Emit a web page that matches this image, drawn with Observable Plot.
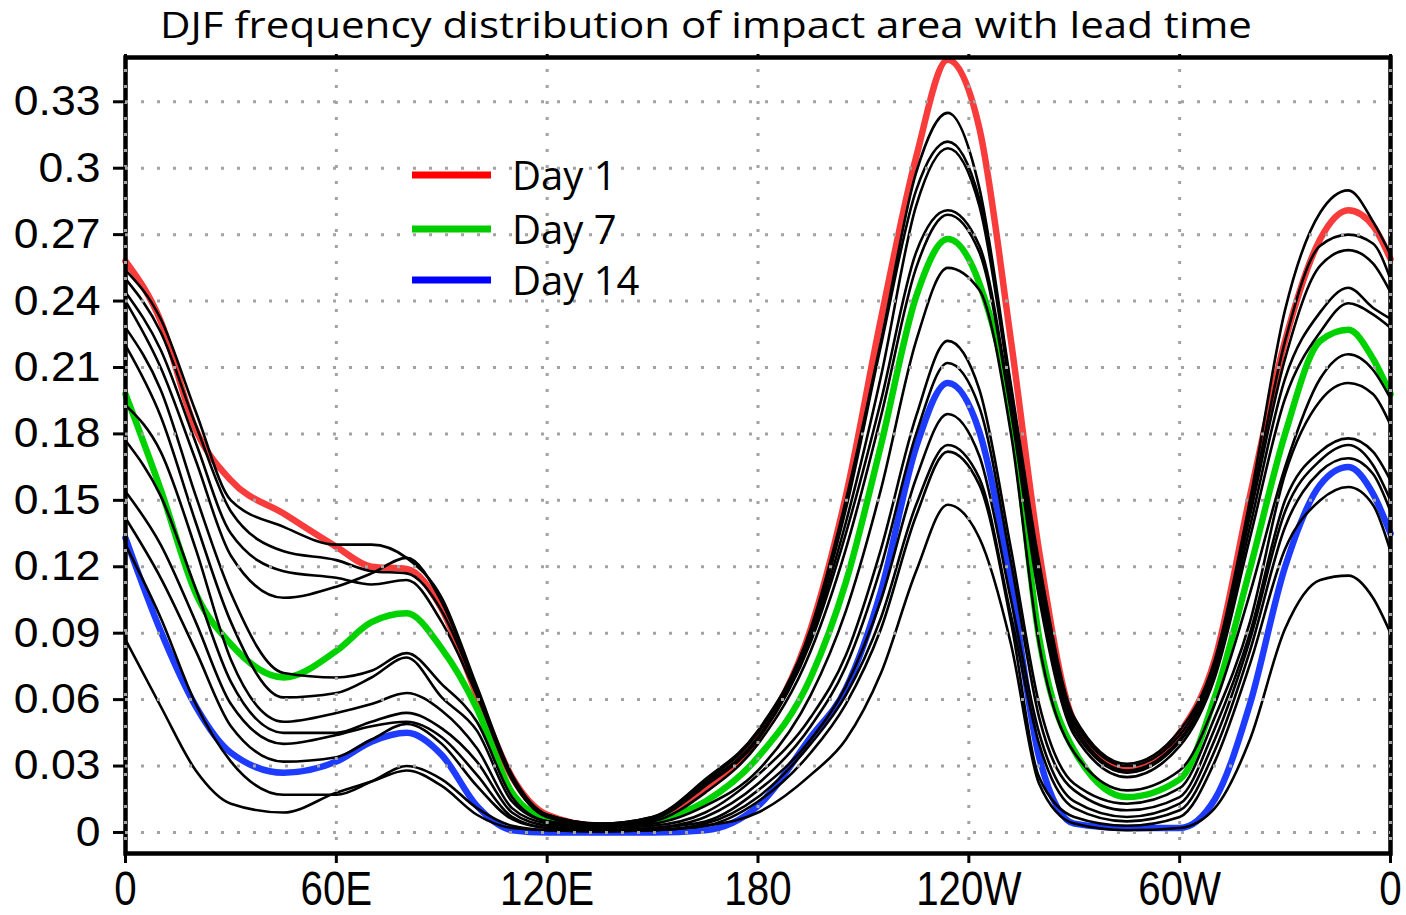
<!DOCTYPE html>
<html>
<head>
<meta charset="utf-8">
<script src="https://cdn.jsdelivr.net/npm/d3@7"></script>
<script src="https://cdn.jsdelivr.net/npm/@observablehq/plot@0.6"></script>
<style>
  html, body { margin: 0; padding: 0; background: #fff; }
  #wrap { position: relative; width: 1406px; height: 915px; overflow: hidden; }
  #wrap > svg { position: absolute; left: 0; top: 0; }
  #overlay { position: absolute; left: 0; top: 0; pointer-events: none; }
</style>
</head>
<body>
<div id="wrap"></div>
<script>
// ---- data ----
const lons = [0, 10, 20, 30, 45, 60, 70, 80, 90, 100, 110, 120, 135, 150, 165, 180, 195, 205, 215, 225, 234, 243, 252, 260, 270, 285, 300, 310, 320, 330, 340, 348, 355, 360];

const day1  = [0.258, 0.231, 0.182, 0.159, 0.144, 0.129, 0.120, 0.119, 0.101, 0.062, 0.025, 0.008, 0.003, 0.005, 0.020, 0.043, 0.092, 0.152, 0.232, 0.305, 0.349, 0.318, 0.222, 0.127, 0.050, 0.028, 0.045, 0.078, 0.152, 0.222, 0.268, 0.281, 0.274, 0.259];
const day7  = [0.198, 0.155, 0.108, 0.085, 0.070, 0.082, 0.095, 0.099, 0.083, 0.056, 0.018, 0.006, 0.002, 0.005, 0.014, 0.034, 0.070, 0.113, 0.175, 0.242, 0.268, 0.248, 0.190, 0.088, 0.037, 0.016, 0.024, 0.061, 0.119, 0.180, 0.222, 0.227, 0.214, 0.198];
const day14 = [0.133, 0.091, 0.057, 0.036, 0.027, 0.032, 0.041, 0.045, 0.035, 0.012, 0.001, 0.000, 0.000, 0.000, 0.001, 0.012, 0.043, 0.065, 0.109, 0.174, 0.203, 0.181, 0.112, 0.034, 0.004, 0.002, 0.002, 0.015, 0.058, 0.120, 0.157, 0.165, 0.153, 0.135];

// other lead times (black curves)
const black1  = [0.254, 0.232, 0.190, 0.150, 0.138, 0.130, 0.130, 0.124, 0.106, 0.066, 0.026, 0.008, 0.004, 0.007, 0.024, 0.046, 0.092, 0.150, 0.222, 0.298, 0.325, 0.291, 0.202, 0.122, 0.052, 0.031, 0.046, 0.078, 0.150, 0.236, 0.280, 0.290, 0.276, 0.261];
const black2  = [0.250, 0.226, 0.184, 0.145, 0.127, 0.123, 0.118, 0.117, 0.100, 0.064, 0.025, 0.008, 0.004, 0.007, 0.023, 0.045, 0.090, 0.146, 0.220, 0.290, 0.312, 0.286, 0.200, 0.118, 0.050, 0.030, 0.044, 0.076, 0.146, 0.222, 0.265, 0.270, 0.266, 0.250];
const black3  = [0.244, 0.218, 0.176, 0.135, 0.118, 0.115, 0.112, 0.114, 0.095, 0.062, 0.024, 0.007, 0.003, 0.006, 0.022, 0.043, 0.088, 0.140, 0.206, 0.283, 0.309, 0.283, 0.198, 0.115, 0.048, 0.028, 0.042, 0.074, 0.143, 0.214, 0.256, 0.263, 0.257, 0.244];
const black4  = [0.240, 0.210, 0.168, 0.125, 0.106, 0.111, 0.117, 0.124, 0.104, 0.065, 0.024, 0.007, 0.003, 0.006, 0.021, 0.042, 0.086, 0.135, 0.195, 0.262, 0.281, 0.265, 0.192, 0.110, 0.046, 0.027, 0.041, 0.072, 0.138, 0.205, 0.235, 0.246, 0.237, 0.232];
const black5  = [0.228, 0.200, 0.152, 0.108, 0.072, 0.070, 0.073, 0.081, 0.067, 0.050, 0.016, 0.005, 0.003, 0.005, 0.018, 0.040, 0.082, 0.128, 0.188, 0.255, 0.279, 0.262, 0.190, 0.106, 0.044, 0.025, 0.039, 0.070, 0.133, 0.196, 0.226, 0.239, 0.234, 0.228];
const black6  = [0.220, 0.188, 0.140, 0.095, 0.061, 0.063, 0.070, 0.079, 0.061, 0.046, 0.014, 0.005, 0.003, 0.004, 0.012, 0.028, 0.062, 0.100, 0.155, 0.222, 0.255, 0.245, 0.180, 0.085, 0.036, 0.019, 0.028, 0.058, 0.108, 0.165, 0.205, 0.216, 0.209, 0.196];
const black7  = [0.193, 0.172, 0.128, 0.078, 0.050, 0.054, 0.058, 0.063, 0.055, 0.038, 0.011, 0.004, 0.002, 0.003, 0.009, 0.026, 0.052, 0.080, 0.128, 0.188, 0.222, 0.200, 0.128, 0.058, 0.022, 0.013, 0.020, 0.052, 0.095, 0.162, 0.195, 0.203, 0.198, 0.184];
const black8  = [0.177, 0.152, 0.110, 0.068, 0.045, 0.045, 0.050, 0.054, 0.047, 0.032, 0.009, 0.003, 0.001, 0.002, 0.007, 0.022, 0.048, 0.075, 0.120, 0.180, 0.212, 0.192, 0.122, 0.052, 0.019, 0.010, 0.016, 0.047, 0.090, 0.150, 0.172, 0.178, 0.172, 0.159];
const black9  = [0.154, 0.130, 0.095, 0.058, 0.040, 0.044, 0.048, 0.050, 0.043, 0.026, 0.007, 0.002, 0.001, 0.002, 0.005, 0.019, 0.042, 0.066, 0.105, 0.160, 0.189, 0.170, 0.105, 0.045, 0.014, 0.007, 0.013, 0.042, 0.087, 0.145, 0.168, 0.175, 0.166, 0.150];
const black10 = [0.142, 0.115, 0.082, 0.048, 0.032, 0.034, 0.042, 0.049, 0.040, 0.021, 0.006, 0.002, 0.001, 0.001, 0.004, 0.016, 0.040, 0.062, 0.097, 0.148, 0.175, 0.160, 0.098, 0.040, 0.011, 0.005, 0.010, 0.037, 0.082, 0.138, 0.163, 0.169, 0.162, 0.145];
const black11 = [0.130, 0.097, 0.058, 0.032, 0.017, 0.017, 0.023, 0.030, 0.024, 0.011, 0.003, 0.001, 0.0005, 0.001, 0.003, 0.014, 0.036, 0.058, 0.092, 0.143, 0.172, 0.157, 0.095, 0.025, 0.007, 0.003, 0.007, 0.032, 0.076, 0.128, 0.150, 0.156, 0.148, 0.127];
const black12 = [0.087, 0.057, 0.028, 0.013, 0.009, 0.018, 0.023, 0.028, 0.021, 0.008, 0.002, 0.001, 0.0005, 0.001, 0.003, 0.009, 0.026, 0.042, 0.072, 0.118, 0.148, 0.133, 0.085, 0.022, 0.004, 0.001, 0.002, 0.011, 0.042, 0.092, 0.114, 0.116, 0.106, 0.090];

const xTickValues = [0, 60, 120, 180, 240, 300, 360];
const xTickLabels = ["0", "60E", "120E", "180", "120W", "60W", "0"];
const yTickValues = [0, 0.03, 0.06, 0.09, 0.12, 0.15, 0.18, 0.21, 0.24, 0.27, 0.3, 0.33];
const yTickLabels = ["0", "0.03", "0.06", "0.09", "0.12", "0.15", "0.18", "0.21", "0.24", "0.27", "0.3", "0.33"];

const legendNames = ["Day 1", "Day 7", "Day 14"];
const legendColors = ["#ff0000", "#00cc00", "#0000ff"];
const lineColors = ["#f83c3c", "#00d200", "#1e3cff"];
const titleText = "DJF frequency distribution of impact area with lead time";

// ---- build tables ----
const toRows = (vals, key) => lons.map((lon, i) => ({lon, v: vals[i], key}));
const blacks = [black1, black2, black3, black4, black5, black6, black7, black8, black9, black10, black11, black12];
const blackRows = blacks.flatMap((vals, j) => toRows(vals, "b" + j));
const xLabelOf = new Map(xTickValues.map((v, i) => [v, xTickLabels[i]]));
const yLabelOf = new Map(yTickValues.map((v, i) => [v, yTickLabels[i]]));

const lineOpts = {x: "lon", y: "v", curve: "monotone-x", strokeLinejoin: "round", strokeLinecap: "round"};

const plot = Plot.plot({
  width: 1406,
  height: 915,
  marginLeft: 125,
  marginRight: 16,
  marginTop: 57,
  marginBottom: 62,
  x: {domain: [0, 360], label: null},
  y: {domain: [-0.0095, 0.35], label: null},
  style: {background: "#fff", fontFamily: "'Liberation Sans', Arial, sans-serif", overflow: "visible"},
  marks: [
    Plot.line(toRows(day1, "d1"), {...lineOpts, stroke: lineColors[0], strokeWidth: 6.5}),
    Plot.line(toRows(day7, "d7"), {...lineOpts, stroke: lineColors[1], strokeWidth: 6.5}),
    Plot.line(toRows(day14, "d14"), {...lineOpts, stroke: lineColors[2], strokeWidth: 6.5}),
    Plot.line(blackRows, {...lineOpts, z: "key", stroke: "#000", strokeWidth: 2.6}),
    Plot.frame({stroke: "#000", strokeWidth: 4.5}),
    Plot.ruleY(yTickValues, {stroke: "#a3a3a3", strokeWidth: 3, strokeDasharray: "3,13"}),
    Plot.ruleX(xTickValues, {stroke: "#a3a3a3", strokeWidth: 3, strokeDasharray: "3,13", strokeDashoffset: 4}),
    Plot.axisX(xTickValues, {anchor: "bottom", tickSize: 10, tickPadding: 7, strokeWidth: 3,
      tickFormat: d => xLabelOf.get(d), fontSize: 48, fill: "#000",
      fontFamily: "'Liberation Sans', Arial, sans-serif", label: null}),
    Plot.axisX(xTickValues, {anchor: "top", tickSize: 4, strokeWidth: 3, tickFormat: () => "", label: null}),
    Plot.axisY(yTickValues, {anchor: "left", tickSize: 12, tickPadding: 13, strokeWidth: 3,
      tickFormat: d => yLabelOf.get(d), fontSize: 42, fill: "#000",
      fontFamily: "'Liberation Sans', Arial, sans-serif", label: null})
  ]
});

// narrow the x tick labels and widen the y tick labels slightly, as in the reference
d3.select(plot).selectAll('g[aria-label="x-axis tick label"] text').each(function () {
  const t = this.getAttribute("transform") || "";
  this.setAttribute("transform", t + " scale(0.84,1)");
});
d3.select(plot).selectAll('g[aria-label="y-axis tick label"] text').each(function () {
  const t = this.getAttribute("transform") || "";
  this.setAttribute("transform", t + " scale(1.06,1)");
});

const wrap = document.getElementById("wrap");
wrap.appendChild(plot);

// ---- title and legend overlay ----
const NS = "http://www.w3.org/2000/svg";
const ov = document.createElementNS(NS, "svg");
ov.setAttribute("id", "overlay");
ov.setAttribute("width", 1406);
ov.setAttribute("height", 915);
const title = document.createElementNS(NS, "text");
title.setAttribute("x", 160);
title.setAttribute("y", 38);
title.setAttribute("font-family", "'Open Sans', sans-serif");
title.setAttribute("font-size", 36);
title.setAttribute("textLength", 1092);
title.setAttribute("lengthAdjust", "spacingAndGlyphs");
title.textContent = titleText;
ov.appendChild(title);
const legendY = [175, 229, 280];
legendNames.forEach((name, i) => {
  const ln = document.createElementNS(NS, "line");
  ln.setAttribute("x1", 412); ln.setAttribute("x2", 491);
  ln.setAttribute("y1", legendY[i]); ln.setAttribute("y2", legendY[i]);
  ln.setAttribute("stroke", legendColors[i]); ln.setAttribute("stroke-width", 7);
  ov.appendChild(ln);
  const tx = document.createElementNS(NS, "text");
  tx.setAttribute("x", 512); tx.setAttribute("y", legendY[i] + 15);
  tx.setAttribute("font-family", "'Open Sans', sans-serif");
  tx.setAttribute("font-size", 40);
  tx.textContent = name;
  ov.appendChild(tx);
});
wrap.appendChild(ov);
</script>
</body>
</html>
